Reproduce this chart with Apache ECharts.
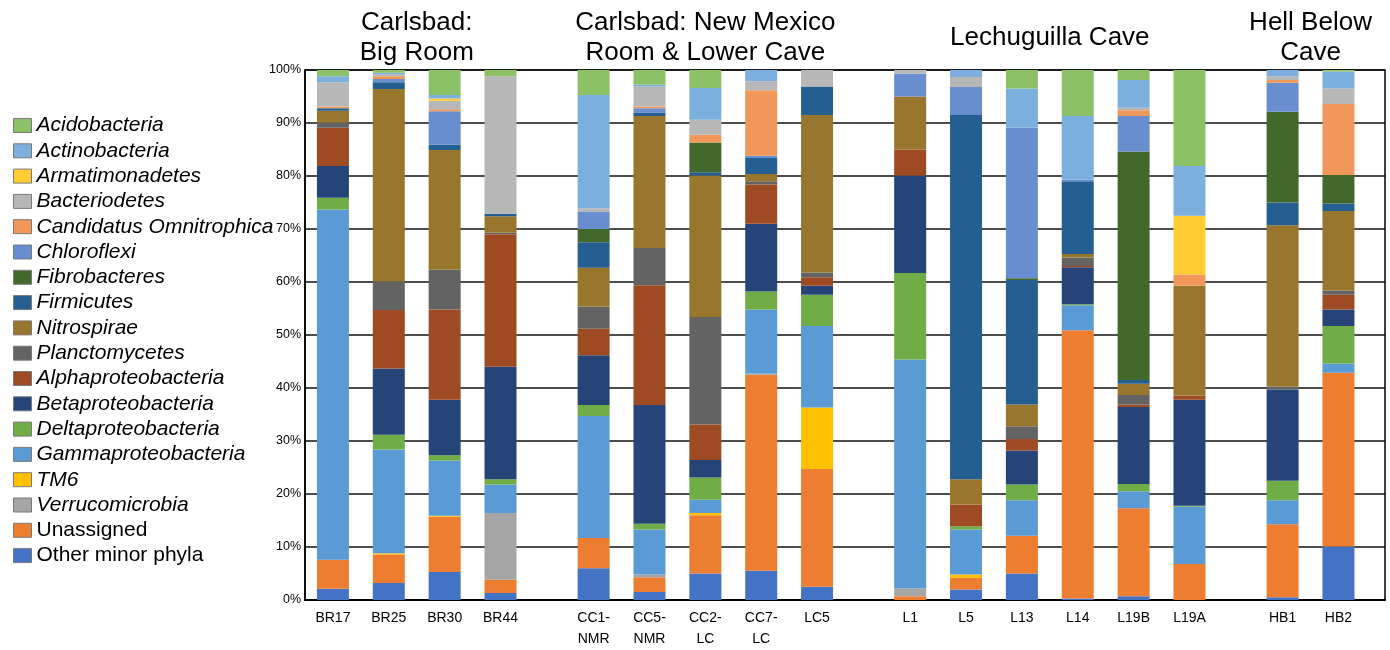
<!DOCTYPE html>
<html>
<head>
<meta charset="utf-8">
<script src="https://cdn.jsdelivr.net/npm/echarts@6/dist/echarts.min.js"></script>
<style>
html,body{margin:0;padding:0;background:#fff;}
#chart{width:1390px;height:650px;}
</style>
</head>
<body>
<div id="chart"></div>
<script>
// ---- data (percent of reads per phylum) ----
const samples = ['BR17','BR25','BR30','BR44','CC1-\nNMR','CC5-\nNMR','CC2-\nLC','CC7-\nLC','LC5','L1','L5','L13','L14','L19B','L19A','HB1','HB2'];
const groupNames = ['Carlsbad:\nBig Room','Carlsbad: New Mexico\nRoom & Lower Cave','Lechuguilla Cave','Hell Below\nCave'];
const groupSizes = [4,5,6,2];
const yTicks = [0,10,20,30,40,50,60,70,80,90,100];

const otherMinor   = [2.1,3.2,5.3,1.3,6.0,1.5,5.0,5.5,2.5,0,2.0,5.0,0.3,0.7,0,0.5,10.1];
const unassigned   = [5.5,5.4,10.4,2.5,5.7,2.8,11.0,37.0,22.2,0.7,2.2,7.1,50.6,16.6,6.8,13.8,32.8];
const verrucomicrobia = [0,0,0,12.6,0,0.5,0,0.2,0,1.5,0,0,0,0,0,0,0];
const tm6          = [0,0.2,0.2,0,0,0,0.4,0,11.6,0,0.6,0,0,0,0,0,0];
const gammaproteo  = [66.1,19.6,10.4,5.4,23.0,8.5,2.5,12.1,15.4,43.2,8.5,6.7,4.7,3.2,10.8,4.5,1.7];
const deltaproteo  = [2.2,2.8,1.0,1.0,2.1,1.1,4.2,3.4,5.9,16.3,0.6,3.0,0.2,1.4,0.2,3.7,7.1];
const betaproteo   = [6.0,12.5,10.5,21.2,9.4,22.4,3.3,12.8,1.7,18.4,0,6.4,7.0,14.5,20.0,17.2,3.1];
const alphaproteo  = [7.2,11.0,17.0,25.0,5.0,22.6,6.7,7.4,1.6,4.9,4.1,2.2,0.2,0.5,0.8,0,2.8];
const planctomycetes = [1.0,5.4,7.5,0.3,4.2,7.0,20.3,0.6,0.9,0,0,2.4,1.6,1.8,0,0.6,0.8];
const nitrospirae  = [2.2,36.3,22.6,3.1,7.3,24.9,26.7,1.4,29.7,10.0,4.8,4.1,0.7,2.1,20.7,30.4,15.0];
const firmicutes   = [0.5,1.3,1.0,0.5,4.8,0.7,0.6,3.0,5.4,0,68.7,23.5,13.7,0.7,0,4.3,1.4];
const fibrobacteres = [0,0,0,0,2.5,0,5.6,0,0,0,0,0.3,0,43.1,0,17.1,5.4];
const chloroflexi  = [0,0.6,6.3,0,3.2,0.8,0,0.4,0,4.3,5.3,28.4,0.3,6.7,0,5.5,0];
const candidatus   = [0.3,0.5,0.4,0,0,0.3,1.5,12.4,0,0,0,0,0,1.1,2.1,0.5,13.4];
const bacteriodetes = [4.6,0.4,1.6,25.9,0.7,3.8,2.8,1.7,3.1,0.7,1.9,0,0,0.5,0,0.7,2.9];
const armatimonadetes = [0,0,0.4,0,0,0,0,0,0,0,0,0,0,0,11.1,0,0];
const actinobacteria = [1.1,0.3,0.7,0,21.4,0.3,6.0,2.1,0,0,1.3,7.4,12.0,5.2,9.4,1.2,3.2];
const acidobacteria = [1.2,0.5,4.7,1.2,4.7,2.8,3.4,0,0,0,0,3.5,8.7,1.9,18.1,0,0.3];

// stack order, bottom to top
const seriesDefs = [
  ['Other minor phyla', otherMinor, '#4472C4', false],
  ['Unassigned', unassigned, '#ED7D31', false],
  ['Verrucomicrobia', verrucomicrobia, '#A5A5A5', true],
  ['TM6', tm6, '#FFC000', true],
  ['Gammaproteobacteria', gammaproteo, '#5B9BD5', true],
  ['Deltaproteobacteria', deltaproteo, '#70AD47', true],
  ['Betaproteobacteria', betaproteo, '#264478', true],
  ['Alphaproteobacteria', alphaproteo, '#9E4A22', true],
  ['Planctomycetes', planctomycetes, '#636363', true],
  ['Nitrospirae', nitrospirae, '#98762E', true],
  ['Firmicutes', firmicutes, '#255E91', true],
  ['Fibrobacteres', fibrobacteres, '#43682B', true],
  ['Chloroflexi', chloroflexi, '#698ED0', true],
  ['Candidatus Omnitrophica', candidatus, '#F1975A', true],
  ['Bacteriodetes', bacteriodetes, '#B7B7B7', true],
  ['Armatimonadetes', armatimonadetes, '#FFCD33', true],
  ['Actinobacteria', actinobacteria, '#7CAFDD', true],
  ['Acidobacteria', acidobacteria, '#8CC168', true]
];

// ---- build category slots with spacing between groups ----
const cats = [''];
const barSlot = [];
let s = 0;
groupSizes.forEach((n, gi) => {
  for (let k = 0; k < n; k++) {
    if (!(gi === 0 && k === 0)) {
      const gap = (k === 0) ? 4 : 2;
      for (let j = 0; j < gap; j++) cats.push('');
    }
    barSlot.push(cats.length);
    cats.push(samples[s++]);
  }
});
cats.push('', '');

function pad(arr) {
  const out = cats.map(() => null);
  arr.forEach((v, i) => { out[barSlot[i]] = v; });
  return out;
}

const italicSet = new Set(seriesDefs.filter(d => d[3]).map(d => d[0]));
const FONT = 'Liberation Sans, Arial, sans-serif';

const chart = echarts.init(document.getElementById('chart'));
const option = {
  animation: false,
  backgroundColor: '#fff',
  grid: { left: 305, right: 5, top: 70, bottom: 48, show: true, borderColor: '#000', borderWidth: 1.5, backgroundColor: 'transparent' },
  legend: {
    orient: 'vertical', left: 8, top: 110,
    itemWidth: 18, itemHeight: 14, itemGap: 4.3,
    icon: 'rect',
    itemStyle: { borderColor: '#7a7a7a', borderWidth: 1 },
    data: seriesDefs.map(d => d[0]).reverse(),
    formatter: name => italicSet.has(name) ? '{i|' + name + '}' : '{n|' + name + '}',
    textStyle: {
      fontFamily: FONT, fontSize: 21, color: '#000', lineHeight: 21, padding: [0,0,0,0],
      rich: {
        i: { fontFamily: FONT, fontSize: 21, fontStyle: 'italic', color: '#000', lineHeight: 21 },
        n: { fontFamily: FONT, fontSize: 21, fontStyle: 'normal', color: '#000', lineHeight: 21 }
      }
    }
  },
  xAxis: {
    type: 'category', data: cats, boundaryGap: true,
    axisLine: { lineStyle: { color: '#000', width: 2 } },
    axisTick: { show: false },
    axisLabel: { interval: 0, fontFamily: FONT, fontSize: 14, color: '#000', lineHeight: 21, margin: 8 }
  },
  yAxis: {
    type: 'value', min: 0, max: 100, interval: 10,
    axisLine: { show: true, lineStyle: { color: '#000', width: 1.5 } },
    axisTick: { show: false },
    splitLine: { lineStyle: { color: '#111', width: 1.5 } },
    axisLabel: { formatter: v => yTicks.includes(v) ? v + '%' : '', fontFamily: FONT, fontSize: 12.5, color: '#000', margin: 4 }
  },
  series: seriesDefs.map(d => ({
    name: d[0], type: 'bar', stack: 'total', barWidth: 32,
    itemStyle: { color: d[2] },
    emphasis: { disabled: true },
    data: pad(d[1])
  }))
};
chart.setOption(option);

// group titles centred over their bars
const titles = [];
let start = 0;
groupSizes.forEach((n, gi) => {
  const x0 = chart.convertToPixel({ xAxisIndex: 0 }, barSlot[start]);
  const x1 = chart.convertToPixel({ xAxisIndex: 0 }, barSlot[start + n - 1]);
  titles.push({
    type: 'text', x: (x0 + x1) / 2, y: 38,
    style: { text: groupNames[gi], fontFamily: FONT, fontSize: 26, fill: '#000', align: 'center', verticalAlign: 'middle', lineHeight: 30 }
  });
  start += n;
});
chart.setOption({ graphic: titles });
</script>
</body>
</html>
